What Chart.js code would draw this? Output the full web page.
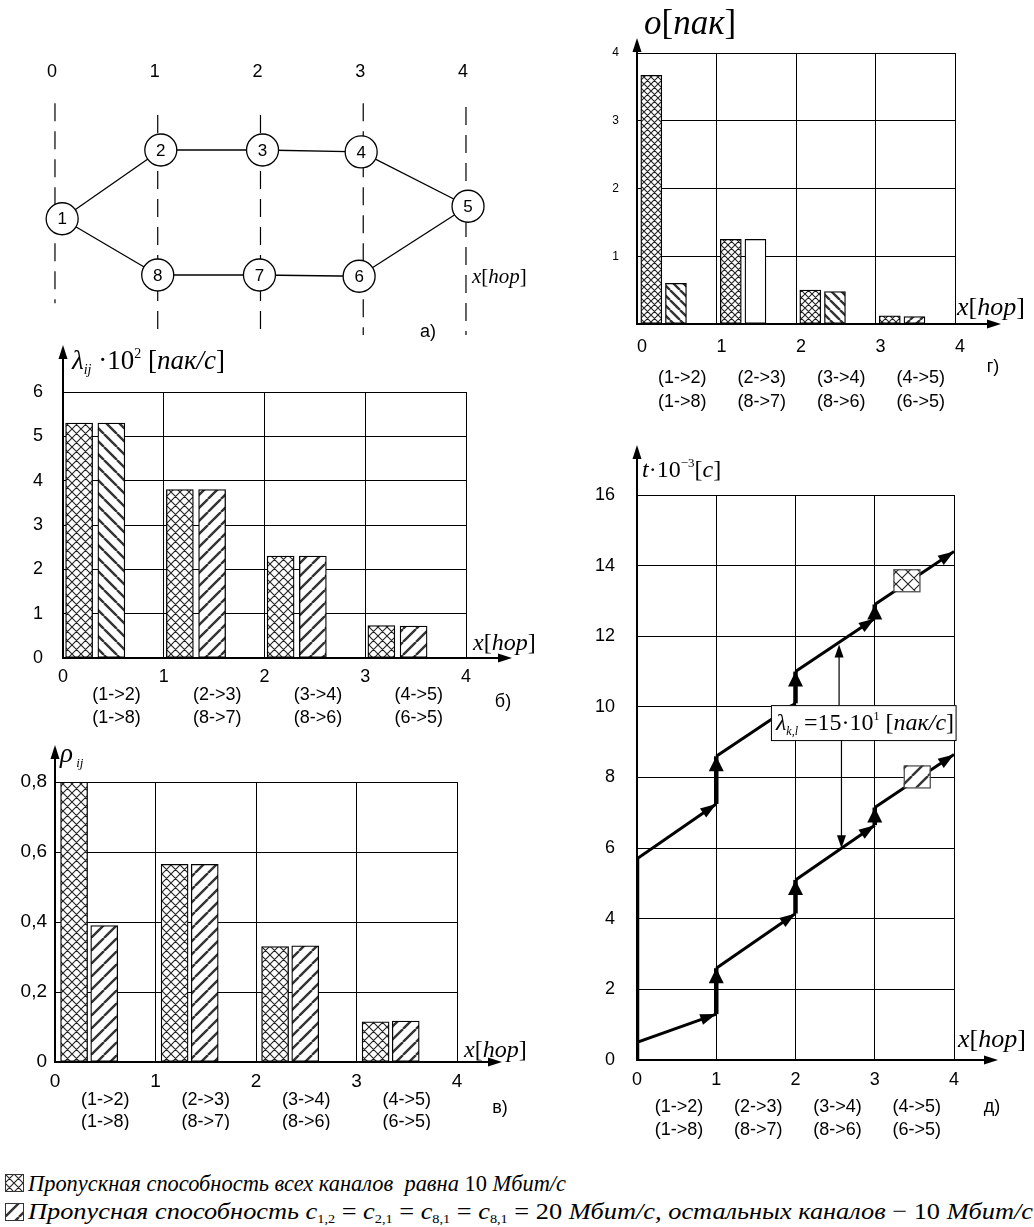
<!DOCTYPE html>
<html>
<head>
<meta charset="utf-8">
<script src="https://cdn.jsdelivr.net/npm/chart.js@4.4.1/dist/chart.umd.min.js"></script>
<style>
  body { margin: 0; background: #fff; width: 1034px; height: 1227px; position: relative; overflow: hidden; }
  canvas.panel { position: absolute; }
  .leg { position: absolute; left: 5px; height: 26px; display: flex; align-items: center; white-space: nowrap;
         font-family: "Liberation Serif", "Times New Roman", serif; font-style: italic; font-size: 24px; color: #000; }
  .leg canvas { margin-right: 4px; }
  .leg .txt { display: inline-block; transform-origin: left center; }
  .up { font-style: normal; }
  sub { font-size: 13px; font-style: normal; vertical-align: -4px; }
</style>
</head>
<body>
<canvas class="panel" id="ga" width="530" height="305" style="left:0;top:40px"></canvas>
<canvas class="panel" id="gb" width="540" height="400" style="left:0;top:330px"></canvas>
<canvas class="panel" id="gv" width="540" height="400" style="left:0;top:730px"></canvas>
<canvas class="panel" id="gg" width="474" height="420" style="left:560px;top:0"></canvas>
<canvas class="panel" id="gd" width="474" height="700" style="left:560px;top:440px"></canvas>

<div class="leg" style="top:1170px"><canvas id="sw1" width="19" height="18"></canvas><span class="txt" id="leg1">Пропускная способность всех каналов&nbsp; равна <span class="up">10</span> Мбит/с</span></div>
<div class="leg" style="top:1199px"><canvas id="sw2" width="19" height="18"></canvas><span class="txt" id="leg2">Пропусная способность c<sub>1,2</sub> <span class="up">=</span> c<sub>2,1</sub> <span class="up">=</span> c<sub>8,1</sub> <span class="up">=</span> c<sub>8,1</sub> <span class="up">= 20</span> Мбит/с, остальных каналов <span class="up">− 10</span> Мбит/с</span></div>

<script>
// ---- data ----
const hops = [0, 1, 2, 3];
const hopTicks = [0, 1, 2, 3, 4];
const linkTop = ['(1->2)', '(2->3)', '(3->4)', '(4->5)'];
const linkBottom = ['(1->8)', '(8->7)', '(8->6)', '(6->5)'];

// а) network: node number, hop column, row (upper 1, lower -1)
const nodeIds = [1, 2, 3, 4, 5, 6, 7, 8];
const nodeHop = [0.07, 1.03, 2.02, 2.98, 4.02, 2.96, 1.99, 1.0];
const nodeRow = [-0.1, 1, 1, 0.97, 0.1, -1.02, -1, -1];
const links = [[1, 2], [2, 3], [3, 4], [4, 5], [1, 8], [8, 7], [7, 6], [6, 5]];

// б) λij·10^2 [пак/с]
const lambdaAll10 = [5.3, 3.8, 2.3, 0.73];
const lambdaMixed = [5.3, 3.8, 2.3, 0.72];
// в) ρij
const rhoAll10 = [0.8, 0.565, 0.33, 0.115];
const rhoMixed = [0.39, 0.565, 0.332, 0.117];
// г) o [пак]
const queueAll10 = [3.67, 1.25, 0.5, 0.12];
const queueMixed = [0.6, 1.25, 0.48, 0.11];
// д) t·10^-3 [c]: time leaving hop k and arriving at hop k+1
const upperLeave = [5.7, 8.6, 11.0, 12.9];
const upperArrive = [7.25, 10.1, 12.5, 14.4];
const lowerLeave = [0.5, 2.6, 5.1, 7.15];
const lowerArrive = [1.3, 4.15, 6.65, 8.65];

const sans = '"Liberation Sans", Arial, sans-serif';
const serif = '"Liberation Serif", "Times New Roman", serif';
Chart.defaults.font.family = sans;
Chart.defaults.color = '#000';

// hatch fills
const patCache = {};
function hatch(kind, cell) {
  if (kind === 'plain') return '#fff';
  const key = kind + cell;
  if (patCache[key]) return patCache[key];
  const c = document.createElement('canvas');
  c.width = c.height = cell;
  const g = c.getContext('2d');
  g.fillStyle = '#fff';
  g.fillRect(0, 0, cell, cell);
  g.strokeStyle = kind === 'cross' ? '#222' : '#333';
  g.lineWidth = kind === 'cross' ? 1.1 : 2.4;
  g.beginPath();
  for (const o of [-cell, 0, cell]) {
    if (kind !== 'fwd') { g.moveTo(o, 0); g.lineTo(o + cell, cell); }
    if (kind !== 'back') { g.moveTo(o, cell); g.lineTo(o + cell, 0); }
  }
  g.stroke();
  patCache[key] = g.createPattern(c, 'repeat');
  return patCache[key];
}

function rich(ctx, x, y, parts) {
  let cx = x;
  ctx.textAlign = 'left';
  ctx.textBaseline = 'alphabetic';
  parts.forEach(([t, size, it, dy]) => {
    ctx.font = (it ? 'italic ' : '') + size + 'px ' + serif;
    ctx.fillText(t, cx, y + (dy || 0));
    cx += ctx.measureText(t).width;
  });
}
const hopLabel = s => [['x', s, 1], ['[', s, 0], ['hop', s, 1], [']', s, 0]];

function head(ctx, x1, y1, x2, y2, len, w) {
  const a = Math.atan2(y2 - y1, x2 - x1);
  const c = Math.cos(a), s = Math.sin(a);
  ctx.beginPath();
  ctx.moveTo(x2, y2);
  ctx.lineTo(x2 - len * c + w / 2 * s, y2 - len * s - w / 2 * c);
  ctx.lineTo(x2 - len * c - w / 2 * s, y2 - len * s + w / 2 * c);
  ctx.closePath();
  ctx.fill();
}

function axisArrows(ctx, a, upTo, rightTo) {
  ctx.strokeStyle = '#000';
  ctx.fillStyle = '#000';
  ctx.lineWidth = 2;
  ctx.beginPath();
  ctx.moveTo(a.left, a.top); ctx.lineTo(a.left, upTo + 8);
  ctx.moveTo(a.right, a.bottom); ctx.lineTo(rightTo - 8, a.bottom);
  ctx.stroke();
  head(ctx, a.left, a.top, a.left, upTo, 14, 9);
  head(ctx, a.right, a.bottom, rightTo, a.bottom, 14, 9);
}

// axis labels, link names, panel letter
function decor(o) {
  return {
    id: 'decor',
    afterDraw(chart) {
      const ctx = chart.ctx, a = chart.chartArea, xs = chart.scales.x;
      ctx.save();
      axisArrows(ctx, a, o.upTo, o.rightTo);
      ctx.fillStyle = '#000';
      o.title(ctx);
      rich(ctx, o.hop[0], o.hop[1], hopLabel(o.hop[2]));
      ctx.font = o.linkFont + 'px ' + sans;
      ctx.textAlign = 'center';
      ctx.textBaseline = 'middle';
      hops.forEach((h, i) => {
        const x = xs.getPixelForValue(h + o.linkOff);
        ctx.fillText(linkTop[i], x, a.bottom + o.linkY[0]);
        ctx.fillText(linkBottom[i], x, a.bottom + o.linkY[1]);
      });
      ctx.font = '18px ' + sans;
      ctx.fillText(o.letter[0], o.letter[1], o.letter[2]);
      ctx.restore();
    }
  };
}

function barChart(id, o) {
  const ds = (vals, off, pats) => ({
    data: hops.map((h, i) => ({ x: h + off, y: vals[i] })),
    backgroundColor: pats.map(p => hatch(p, p === 'cross' ? o.cross : o.stripe)),
    borderColor: '#000',
    borderWidth: 1.3,
    borderSkipped: false,
    grouped: false,
    barPercentage: 1,
    categoryPercentage: 1,
    maxBarThickness: o.barW
  });
  return new Chart(document.getElementById(id), {
    type: 'bar',
    data: { datasets: [ds(o.a, o.offA, hops.map(() => 'cross')), ds(o.b, o.offB, o.patB)] },
    options: {
      responsive: false,
      animation: false,
      events: [],
      layout: { autoPadding: false, padding: { left: 0, top: o.area.top, right: o.area.right, bottom: 0 } },
      plugins: { legend: { display: false }, tooltip: { enabled: false } },
      scales: {
        x: {
          type: 'linear', min: 0, max: 4, offset: false,
          ticks: { stepSize: 1, color: '#000', font: { size: o.xFont }, padding: o.xPad, labelOffset: o.xShift || 0, maxRotation: 0 },
          grid: { color: '#000', lineWidth: 1, drawTicks: false, offset: false },
          border: { color: '#000', width: 2 },
          afterFit: s => { s.height = o.area.xh; }
        },
        y: {
          min: 0, max: o.yMax,
          ticks: { stepSize: o.yStep, color: '#000', font: { size: o.yFont }, padding: o.yPad, callback: o.yFmt },
          grid: { color: '#000', lineWidth: 1, drawTicks: false },
          border: { color: '#000', width: 2 },
          afterFit: s => { s.width = o.area.left; }
        }
      }
    },
    plugins: [decor(o)]
  });
}

// ---- а) network ----
const nodePts = nodeIds.map((id, i) => ({ x: nodeHop[i], y: nodeRow[i] }));
const pt = id => nodePts[nodeIds.indexOf(id)];
const colTop = [1.75, 1.56, 1.56, 1.75, 1.69];
const colBottom = [-1.45, -1.96, -1.96, -1.96, -1.96];

new Chart(document.getElementById('ga'), {
  type: 'scatter',
  data: {
    datasets: [
      { data: nodePts, pointRadius: 16, pointBackgroundColor: '#fff', pointBorderColor: '#000', pointBorderWidth: 1.3, order: 0 },
      ...links.map(l => ({ data: [pt(l[0]), pt(l[1])], showLine: true, borderColor: '#000', borderWidth: 1.3, pointRadius: 0, order: 1 })),
      ...hopTicks.map(h => ({ data: [{ x: h, y: colTop[h] }, { x: h, y: colBottom[h] }], showLine: true, borderDash: [18, 10],
        borderColor: '#000', borderWidth: 1.2, pointRadius: 0, order: 2 }))
    ]
  },
  options: {
    responsive: false,
    animation: false,
    events: [],
    layout: { autoPadding: false, padding: 0 },
    plugins: { legend: { display: false }, tooltip: { enabled: false } },
    scales: {
      x: { type: 'linear', display: false, min: -0.535, max: 4.623 },
      y: { type: 'linear', display: false, min: -2.12, max: 2.76 }
    }
  },
  plugins: [{
    id: 'netText',
    afterDraw(chart) {
      const ctx = chart.ctx, xs = chart.scales.x, ys = chart.scales.y;
      const meta = chart.getDatasetMeta(0);
      ctx.save();
      ctx.fillStyle = '#000';
      ctx.textAlign = 'center';
      ctx.textBaseline = 'middle';
      ctx.font = '17px ' + sans;
      meta.data.forEach((p, i) => ctx.fillText(String(nodeIds[i]), p.x, p.y + 1));
      ctx.font = '18px ' + sans;
      hopTicks.forEach(h => ctx.fillText(String(h), xs.getPixelForValue(h) - 3, ys.getPixelForValue(2.25)));
      ctx.fillText('а)', 428, 292);
      rich(ctx, 472, 243, hopLabel(21));
      ctx.restore();
    }
  }]
});

// ---- б) ----
barChart('gb', {
  a: lambdaAll10, b: lambdaMixed, offA: 0.16, offB: 0.48, patB: ['back', 'fwd', 'fwd', 'fwd'],
  barW: 27, cross: 9, stripe: 13,
  yMax: 6, yStep: 1, yFont: 18, yPad: 20, xFont: 18, xPad: 8,
  area: { left: 63, top: 62, right: 74, xh: 72 },
  upTo: 15, rightTo: 512,
  title: ctx => rich(ctx, 72, 39, [['λ', 27, 1], ['ij', 14, 1, 5], [' ·10', 27, 0], ['2', 14, 0, -11], [' [', 27, 0], ['пак/с', 27, 1], [']', 27, 0]]),
  hop: [473, 320, 24],
  linkOff: 0.53, linkFont: 18, linkY: [37, 60],
  letter: ['б)', 503, 372]
});

// ---- в) ----
barChart('gv', {
  a: rhoAll10, b: rhoMixed, offA: 0.19, offB: 0.49, patB: ['fwd', 'fwd', 'fwd', 'fwd'],
  barW: 27, cross: 9, stripe: 13,
  yMax: 0.8, yStep: 0.2, yFont: 19, yPad: 8, xFont: 19, xPad: 8,
  yFmt: v => v === 0 ? '0' : v.toFixed(1).replace('.', ','),
  area: { left: 55, top: 52, right: 83, xh: 68 },
  upTo: 15, rightTo: 502,
  title: ctx => rich(ctx, 60, 32, [['ρ', 27, 1], [' ij', 13, 1, 5]]),
  hop: [464, 327, 24],
  linkOff: 0.5, linkFont: 18, linkY: [38, 60],
  letter: ['в)', 500, 378]
});

// ---- г) ----
barChart('gg', {
  a: queueAll10, b: queueMixed, offA: 0.18, offB: 0.49, patB: ['back', 'plain', 'back', 'fwd'],
  barW: 21, cross: 7, stripe: 10,
  yMax: 4, yStep: 1, yFont: 12, yPad: 18, xFont: 18, xPad: 12, xShift: 5,
  yFmt: v => v === 0 ? '' : v,
  area: { left: 77, top: 53, right: 79, xh: 96 },
  upTo: 38, rightTo: 441,
  title: ctx => rich(ctx, 84, 34, [['o', 35, 1], ['[', 35, 0], ['пак', 35, 1], [']', 35, 0]]),
  hop: [397, 315, 26],
  linkOff: 0.57, linkFont: 18, linkY: [54, 78],
  letter: ['г)', 433, 367]
});

// ---- д) ----
const upperPts = [{ x: 0, y: 0 }];
hops.forEach((h, i) => upperPts.push({ x: h, y: upperLeave[i] }, { x: h + 1, y: upperArrive[i] }));
const lowerPts = [];
hops.forEach((h, i) => lowerPts.push({ x: h, y: lowerLeave[i] }, { x: h + 1, y: lowerArrive[i] }));
const yAt = (leave, arrive, x) => {
  const k = Math.floor(x);
  return leave[k] + (x - k) * (arrive[k] - leave[k]);
};

const tDecor = decor({
  upTo: 5, rightTo: 438,
  title: ctx => rich(ctx, 82, 37, [['t', 24, 1], ['·10', 24, 0], ['−3', 13, 0, -10], ['[', 24, 0], ['c', 24, 1], [']', 24, 0]]),
  hop: [398, 607, 26],
  linkOff: 0.53, linkFont: 18, linkY: [47, 70],
  letter: ['д)', 432, 667]
});

new Chart(document.getElementById('gd'), {
  type: 'scatter',
  data: {
    datasets: [upperPts, lowerPts].map(d => ({
      data: d, showLine: true, pointRadius: 0, borderColor: '#000', borderWidth: 3, borderJoinStyle: 'bevel',
      segment: { borderWidth: c => c.p0.parsed.x === c.p1.parsed.x ? 4.5 : 3 }
    }))
  },
  options: {
    responsive: false,
    animation: false,
    events: [],
    layout: { autoPadding: false, padding: { left: 0, top: 55, right: 80, bottom: 0 } },
    plugins: { legend: { display: false }, tooltip: { enabled: false } },
    scales: {
      x: {
        type: 'linear', min: 0, max: 4,
        ticks: { stepSize: 1, color: '#000', font: { size: 18 }, padding: 9, maxRotation: 0 },
        grid: { color: '#000', lineWidth: 1, drawTicks: false },
        border: { color: '#000', width: 2 },
        afterFit: s => { s.height = 80; }
      },
      y: {
        min: 0, max: 16,
        ticks: { stepSize: 2, color: '#000', font: { size: 18 }, padding: 22 },
        grid: { color: '#000', lineWidth: 1, drawTicks: false },
        border: { color: '#000', width: 2 },
        afterFit: s => { s.width = 77; }
      }
    }
  },
  plugins: [tDecor, {
    id: 'timeMarks',
    afterDatasetsDraw(chart) {
      const ctx = chart.ctx, xs = chart.scales.x, ys = chart.scales.y;
      const px = v => xs.getPixelForValue(v), py = v => ys.getPixelForValue(v);
      ctx.save();
      ctx.fillStyle = '#000';
      ctx.strokeStyle = '#000';
      // arrow heads at the end of every hop segment
      [[upperPts, 1], [lowerPts, 0]].forEach(([pts, from]) => {
        for (let i = from; i < pts.length - 1; i++) {
          const p0 = pts[i], p1 = pts[i + 1];
          const vertical = p0.x === p1.x;
          head(ctx, px(p0.x), py(p0.y), px(p1.x), py(p1.y), vertical ? 15 : 16, vertical ? 15 : 11);
        }
      });
      // note box
      const bx = px(1.69), by = py(10.05), bw = px(4.02) - bx, bh = py(9.06) - by;
      ctx.fillStyle = '#fff';
      ctx.fillRect(bx, by, bw, bh);
      ctx.lineWidth = 1;
      ctx.strokeRect(bx + 0.5, by + 0.5, bw, bh);
      ctx.fillStyle = '#000';
      rich(ctx, bx + 5, by + 25, [['λ', 24, 1], ['k,l', 12, 1, 5], [' =15·10', 24, 0], ['1', 12, 0, -10], [' [', 24, 0], ['пак/с', 24, 1], [']', 24, 0]]);
      // thin pointers from the note to both paths
      const upX = 2.55, dnX = 2.58;
      ctx.lineWidth = 1.2;
      ctx.beginPath();
      ctx.moveTo(px(upX), by); ctx.lineTo(px(upX), py(yAt(upperLeave, upperArrive, upX)) + 8);
      ctx.moveTo(px(dnX), by + bh); ctx.lineTo(px(dnX), py(yAt(lowerLeave, lowerArrive, dnX)) - 8);
      ctx.stroke();
      head(ctx, px(upX), by, px(upX), py(yAt(upperLeave, upperArrive, upX)) + 2, 13, 9);
      head(ctx, px(dnX), by + bh, px(dnX), py(yAt(lowerLeave, lowerArrive, dnX)), 13, 9);
      // path swatches
      [[3.4, upperLeave, upperArrive, 'cross', 12], [3.53, lowerLeave, lowerArrive, 'fwd', 16]].forEach(([x, lv, ar, kind, cell]) => {
        const cx = px(x), cy = py(yAt(lv, ar, x)) - 3;
        ctx.fillStyle = hatch(kind, cell);
        ctx.fillRect(cx - 13, cy - 11, 26, 22);
        ctx.strokeStyle = '#444';
        ctx.strokeRect(cx - 13 + 0.5, cy - 11 + 0.5, 26, 22);
      });
      ctx.restore();
    }
  }]
});

// ---- legend swatches + width fit ----
[['sw1', 'cross', 9], ['sw2', 'fwd', 14]].forEach(([id, kind, cell]) => {
  const c = document.getElementById(id), g = c.getContext('2d');
  g.fillStyle = hatch(kind, cell);
  g.fillRect(0, 0, c.width, c.height);
  g.strokeStyle = '#333';
  g.strokeRect(0.5, 0.5, c.width - 1, c.height - 1);
});
[['leg1', 538], ['leg2', 1005]].forEach(([id, w]) => {
  const el = document.getElementById(id);
  el.style.transform = 'scaleX(' + (w / el.getBoundingClientRect().width) + ')';
});
</script>
</body>
</html>
